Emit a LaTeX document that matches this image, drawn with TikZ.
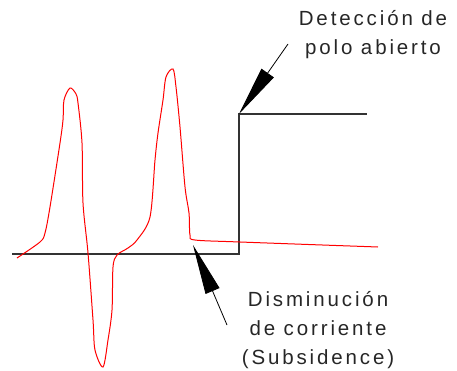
\documentclass[tikz,border=0pt]{standalone}
\usepackage{fontspec}
\setmainfont[LetterSpace=14]{Liberation Sans}
\usetikzlibrary{arrows.meta}
\tikzset{
  axis/.style={draw=black!80, line width=1.1pt},
  signal/.style={draw=red, line width=1pt},
  callout/.style={draw=black, line width=0.8pt, -{Triangle[length=50pt,width=15pt]}},
  lbl/.style={font=\fontsize{20.5}{29}\selectfont, text=black!85, align=center, inner sep=0pt}
}
\begin{document}
\begin{tikzpicture}[x=1pt,y=-1pt]
\useasboundingbox (0,0) rectangle (457,371);
% axes
\coordinate (b0) at (12,254);
\coordinate (b1) at (239,254);
\coordinate (t0) at (239,114);
\coordinate (t1) at (367,114);
\draw[axis] (b0) -- (b1) -- (t0) -- (t1);
% signal
\draw[signal] plot[smooth, tension=0.5] coordinates {
 (17,258) (40,242) (45,233) (50,207) (60,143) (63,120) (64,100) (70,88) (76,94) (78,103)
 (82,143) (83,203) (88,253) (93,320) (95,350) (103,367) (108,340) (112,310) (113,267)
 (117,255) (128,248) (137,240) (150,217) (155,160) (158,133) (163,100) (166,77) (173,69)
 (176,87) (180,127) (185,187) (189,213) (190,235) (195,240) (240,242) (378,247)};
% labels
\node[lbl] (top) at (373,35) {Detección de\\polo abierto};
\node[lbl] (bot) at (318,330) {Disminución\\de corriente\\(Subsidence)};
\coordinate (ta) at (288,44);
\coordinate (ba) at (227,325);
\coordinate (bt) at (193,245);
\draw[callout] (ta) -- (t0);
\draw[callout] (ba) -- (bt);
\end{tikzpicture}
\end{document}
